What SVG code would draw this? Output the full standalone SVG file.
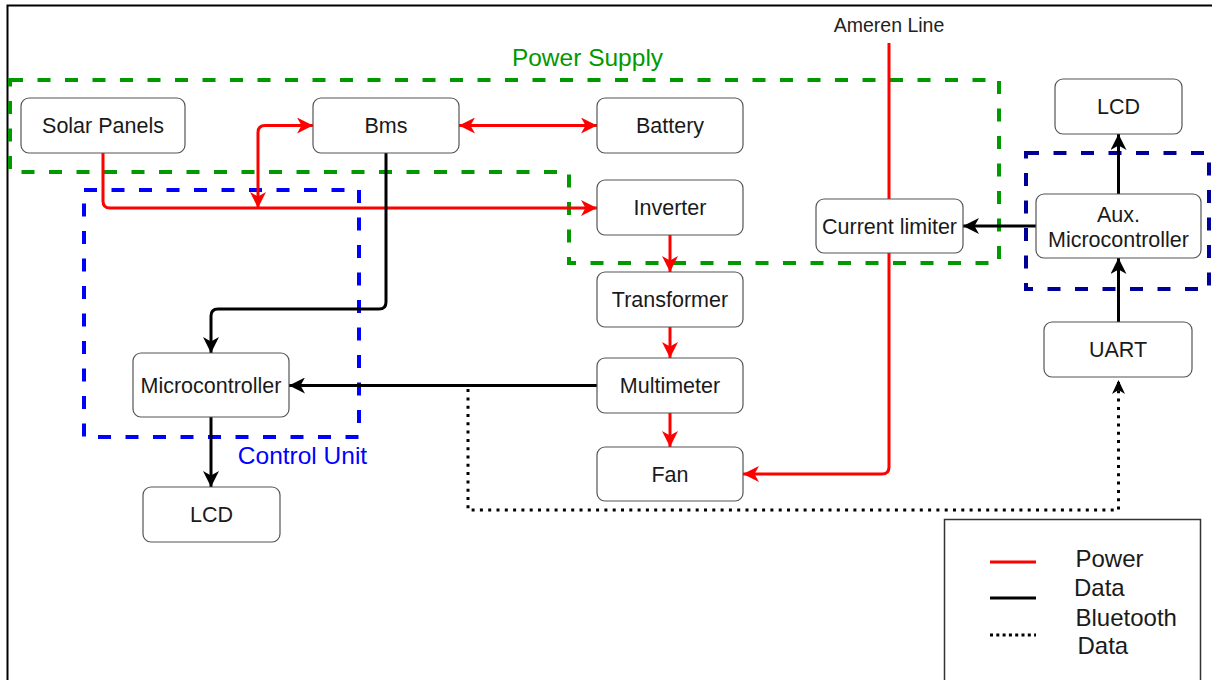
<svg xmlns="http://www.w3.org/2000/svg" width="1212" height="680" viewBox="0 0 1212 680">
<style>
text{font-family:"Liberation Sans",Arial,sans-serif;}
.node rect{fill:#fff;stroke:#555;stroke-width:1.2;}
.node text{font-size:21.5px;fill:#1a1a1a;text-anchor:middle;}
.grp{fill:none;stroke-width:4;stroke-dasharray:13 14.5;}
.pw{fill:none;stroke:#ff0000;stroke-width:3;}
.dt{fill:none;stroke:#000;stroke-width:3;}
.bt{fill:none;stroke:#000;stroke-width:3;stroke-dasharray:3 5.3;}
.lg{font-size:24px;fill:#1a1a1a;}
</style>
<defs>
<marker id="ar" viewBox="0 0 16 16" refX="16" refY="8" markerWidth="16" markerHeight="16" markerUnits="userSpaceOnUse" orient="auto-start-reverse"><path d="M0,0 L16,8 L0,16 L4.5,8 Z" fill="#ff0000"/></marker>
<marker id="ab" viewBox="0 0 16 16" refX="16" refY="8" markerWidth="16" markerHeight="16" markerUnits="userSpaceOnUse" orient="auto-start-reverse"><path d="M0,0 L16,8 L0,16 L4.5,8 Z" fill="#000"/></marker>
<marker id="ad" viewBox="0 0 14 13" refX="14" refY="6.5" markerWidth="14" markerHeight="13" markerUnits="userSpaceOnUse" orient="auto"><path d="M0,0 L14,6.5 L0,13 L4,6.5 Z" fill="#000"/></marker>
</defs>
<rect x="0" y="0" width="1212" height="680" fill="#fff"/>
<rect x="7.5" y="5.5" width="1230" height="700" fill="none" stroke="#000" stroke-width="2"/>

<g id="groups">
<path class="grp" stroke="#009900" d="M10,80 H999 V263 H569 V172 H10 Z"/>
<rect class="grp" stroke="#0000ff" x="84" y="190" width="275" height="247"/>
<rect class="grp" stroke="#000099" stroke-width="3.5" x="1026" y="153" width="183" height="136"/>
<text x="587.5" y="65.5" font-size="24.5" fill="#009900" text-anchor="middle">Power Supply</text>
<text x="302.5" y="463.5" font-size="24.5" fill="#0000ff" text-anchor="middle">Control Unit</text>
</g>

<g id="connectors">
<path class="pw" d="M103,153 V201 Q103,208 110,208 H597" marker-end="url(#ar)"/>
<path class="pw" d="M258,208 V132.5 Q258,125.5 265,125.5 H313" marker-start="url(#ar)" marker-end="url(#ar)"/>
<path class="pw" d="M459,125.5 H597" marker-start="url(#ar)" marker-end="url(#ar)"/>
<path class="pw" d="M670,235 V272" marker-end="url(#ar)"/>
<path class="pw" d="M670,327 V358" marker-end="url(#ar)"/>
<path class="pw" d="M670,413 V447" marker-end="url(#ar)"/>
<path class="pw" d="M889,43 V467 Q889,474 882,474 H743" marker-end="url(#ar)"/>
<path class="dt" d="M386,153 V302 Q386,309 379,309 H218 Q211,309 211,316 V353" marker-end="url(#ab)"/>
<path class="dt" d="M597,385.5 H289" marker-end="url(#ab)"/>
<path class="dt" d="M211,417 V487" marker-end="url(#ab)"/>
<path class="dt" d="M1036,226 H963" marker-end="url(#ab)"/>
<path class="dt" d="M1118.5,194 V134" marker-end="url(#ab)"/>
<path class="dt" d="M1118.5,322 V258" marker-end="url(#ab)"/>
<path class="bt" d="M289,385.5 H468 V510 H1118.5 V380" marker-end="url(#ad)"/>
</g>

<text x="889" y="32" font-size="19.5" fill="#222" text-anchor="middle">Ameren Line</text>

<g id="solar" class="node"><rect x="21" y="98" width="164" height="55" rx="8"/><text x="103" y="133">Solar Panels</text></g>
<g id="bms" class="node"><rect x="313" y="98" width="146" height="55" rx="8"/><text x="386" y="133">Bms</text></g>
<g id="battery" class="node"><rect x="597" y="98" width="146" height="55" rx="8"/><text x="670" y="133">Battery</text></g>
<g id="inverter" class="node"><rect x="597" y="180" width="146" height="55" rx="8"/><text x="670" y="215">Inverter</text></g>
<g id="transformer" class="node"><rect x="597" y="272" width="146" height="55" rx="8"/><text x="670" y="307">Transformer</text></g>
<g id="multimeter" class="node"><rect x="597" y="358" width="146" height="55" rx="8"/><text x="670" y="393">Multimeter</text></g>
<g id="fan" class="node"><rect x="597" y="447" width="146" height="54" rx="8"/><text x="670" y="481.5">Fan</text></g>
<g id="microcontroller" class="node"><rect x="133" y="353" width="156" height="64" rx="8"/><text x="211" y="392.5">Microcontroller</text></g>
<g id="lcd1" class="node"><rect x="143" y="487" width="137" height="55" rx="8"/><text x="211.5" y="522">LCD</text></g>
<g id="limiter" class="node"><rect x="816" y="199" width="147" height="54" rx="8"/><text x="889.5" y="233.5">Current limiter</text></g>
<g id="lcd2" class="node"><rect x="1055" y="79" width="127" height="55" rx="8"/><text x="1118.5" y="114">LCD</text></g>
<g id="aux" class="node"><rect x="1036" y="194" width="165" height="64" rx="8"/><text x="1118.5" y="221.5">Aux.</text><text x="1118.5" y="246.5">Microcontroller</text></g>
<g id="uart" class="node"><rect x="1044" y="322" width="148" height="55" rx="8"/><text x="1118" y="357">UART</text></g>

<g id="legend">
<rect x="944.5" y="519.5" width="256" height="200" fill="none" stroke="#333" stroke-width="1.5"/>
<line x1="990" y1="562" x2="1036" y2="562" stroke="#ff0000" stroke-width="3"/>
<line x1="990" y1="598" x2="1036" y2="598" stroke="#000" stroke-width="3"/>
<line x1="990" y1="635" x2="1036" y2="635" stroke="#000" stroke-width="3" stroke-dasharray="3 3.3"/>
<text class="lg" x="1075.5" y="566.5">Power</text>
<text class="lg" x="1074" y="596">Data</text>
<text class="lg" x="1075.5" y="625.5">Bluetooth</text>
<text class="lg" x="1077.5" y="654">Data</text>
</g>
</svg>
